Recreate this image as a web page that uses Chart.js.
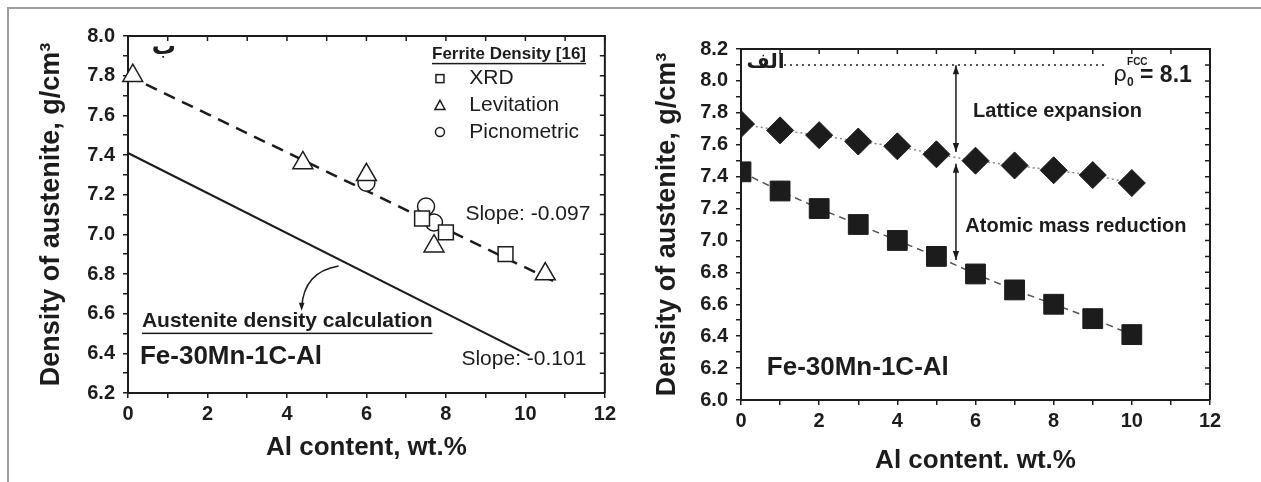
<!DOCTYPE html>
<html>
<head>
<meta charset="utf-8">
<script src="https://cdn.jsdelivr.net/npm/chart.js@4.4.0/dist/chart.umd.min.js"></script>
<style>
body { margin: 0; background: #fff; width: 1261px; height: 482px; overflow: hidden; position: relative; }
#frame { position: absolute; left: 7px; top: 7px; width: 1260px; height: 480px; border-top: 2px solid #9c9c9c; border-left: 2px solid #9c9c9c; }
#left { position: absolute; left: 0; top: 0; }
#right { position: absolute; left: 620px; top: 0; }
</style>
</head>
<body>
<div id="frame"></div>
<canvas id="left" width="620" height="482"></canvas>
<canvas id="right" width="641" height="482"></canvas>
<script>
const ink = "#1c1c1c"
Chart.defaults.font.family = "'Liberation Sans', Arial, sans-serif"
Chart.defaults.color = ink

// left panel: ferrite density data [16] and fits
const xrdAl = [7.4, 8.0, 9.5]
const xrdDensity = [7.08, 7.01, 6.90]
const levitationAl = [0.12, 4.4, 6.0, 7.7, 10.5]
const levitationDensity = [7.80, 7.36, 7.30, 6.94, 6.80]
const picnoAl = [6.0, 7.5, 7.7]
const picnoDensity = [7.26, 7.14, 7.06]
const ferriteFitAl = [0, 10.75]
const ferriteFitDensity = [7.80, 6.76]
const calcAl = [0, 10.1]
const calcDensity = [7.41, 6.39]

// right panel
const alSteps = [0, 1, 2, 3, 4, 5, 6, 7, 8, 9, 10]
const diamondDensity = [7.73, 7.69, 7.66, 7.62, 7.59, 7.54, 7.50, 7.47, 7.44, 7.41, 7.36]
const squareDensity = [7.43, 7.31, 7.20, 7.10, 7.00, 6.90, 6.79, 6.69, 6.60, 6.51, 6.41]
const rhoFccAl = [1.1, 9.35]
const rhoFccDensity = [8.1, 8.1]

function pts(xs, ys) {
    return xs.map((x, i) => ({ x: x, y: ys[i] }))
}

function makeScales(yMin, yMax, yWidth, xHeight, yTitlePad, xTitlePad, xTitle) {
    const tickFont = { size: 20, weight: "bold" }
    const grid = { drawOnChartArea: false, drawTicks: true, tickLength: 5, color: ink, lineWidth: 1.5 }
    return {
        x: {
            type: "linear", min: 0, max: 12,
            afterFit: s => { s.height = xHeight },
            ticks: { stepSize: 1, autoSkip: false, maxRotation: 0, padding: 4, font: tickFont, color: ink,
                callback: v => Math.round(v) % 2 ? "" : Math.round(v) },
            grid: grid,
            border: { display: true, color: ink, width: 2 },
            title: { display: true, text: xTitle, color: ink, font: { size: 26, weight: "bold" }, padding: { top: 0, bottom: xTitlePad } }
        },
        y: {
            type: "linear", min: yMin, max: yMax,
            afterFit: s => { s.width = yWidth },
            ticks: { stepSize: 0.1, autoSkip: false, padding: 8, font: tickFont, color: ink,
                callback: (v, i) => i % 2 ? "" : v.toFixed(1) },
            grid: grid,
            border: { display: true, color: ink, width: 2 },
            title: { display: true, text: "Density of austenite, g/cm³", color: ink, font: { size: 27, weight: "bold" }, padding: { top: yTitlePad, bottom: 0 } }
        }
    }
}

// top and right box lines with inward ticks
const framePlugin = {
    id: "frame",
    afterDraw(chart) {
        const ctx = chart.ctx
        const a = chart.chartArea
        const sx = chart.scales.x
        const sy = chart.scales.y
        ctx.save()
        ctx.strokeStyle = ink
        ctx.lineWidth = 2
        ctx.beginPath()
        ctx.moveTo(a.left, a.top)
        ctx.lineTo(a.right, a.top)
        ctx.lineTo(a.right, a.bottom)
        ctx.stroke()
        ctx.lineWidth = 1.5
        ctx.beginPath()
        sx.ticks.forEach(t => {
            const x = sx.getPixelForValue(t.value)
            ctx.moveTo(x, a.top)
            ctx.lineTo(x, a.top + 5)
        })
        sy.ticks.forEach(t => {
            const y = sy.getPixelForValue(t.value)
            ctx.moveTo(a.right, y)
            ctx.lineTo(a.right - 5, y)
        })
        ctx.stroke()
        ctx.restore()
    }
}

function label(ctx, text, x, y, font, align, underline) {
    ctx.font = font
    ctx.textAlign = align || "left"
    ctx.fillText(text, x, y)
    if (underline) {
        const w = ctx.measureText(text).width
        const x0 = align === "center" ? x - w / 2 : x
        ctx.fillRect(x0, y + underline, w, 1.5)
    }
}

function arrowHead(ctx, x, y, dx, dy, size) {
    const len = Math.hypot(dx, dy)
    const ux = dx / len
    const uy = dy / len
    ctx.beginPath()
    ctx.moveTo(x, y)
    ctx.lineTo(x - ux * size - uy * size * 0.35, y - uy * size + ux * size * 0.35)
    ctx.lineTo(x - ux * size + uy * size * 0.35, y - uy * size - ux * size * 0.35)
    ctx.closePath()
    ctx.fill()
}

const leftNotes = {
    id: "leftNotes",
    afterDatasetsDraw(chart) {
        const ctx = chart.ctx
        const X = v => chart.scales.x.getPixelForValue(v)
        const Y = v => chart.scales.y.getPixelForValue(v)
        ctx.save()
        ctx.fillStyle = ink
        ctx.strokeStyle = ink
        ctx.textBaseline = "alphabetic"
        label(ctx, "ب", X(0.6), Y(7.91), "bold 24px 'DejaVu Sans'")
        ctx.textBaseline = "middle"

        // legend
        label(ctx, "Ferrite Density [16]", X(7.65), Y(7.91), "bold 17px 'Liberation Sans'", "left", 9)
        const mx = X(7.85)
        ctx.lineWidth = 1.5
        let y = Y(7.785)
        ctx.strokeRect(mx - 4, y - 4, 8, 8)
        y = Y(7.65)
        ctx.beginPath()
        ctx.moveTo(mx, y - 5)
        ctx.lineTo(mx + 5, y + 4)
        ctx.lineTo(mx - 5, y + 4)
        ctx.closePath()
        ctx.stroke()
        y = Y(7.516)
        ctx.beginPath()
        ctx.arc(mx, y, 4.5, 0, Math.PI * 2)
        ctx.stroke()
        label(ctx, "XRD", X(8.59), Y(7.785), "21px 'Liberation Sans'")
        label(ctx, "Levitation", X(8.59), Y(7.65), "21px 'Liberation Sans'")
        label(ctx, "Picnometric", X(8.59), Y(7.516), "21px 'Liberation Sans'")

        label(ctx, "Slope: -0.097", X(8.49), Y(7.10), "21px 'Liberation Sans'")
        label(ctx, "Slope: -0.101", X(8.39), Y(6.37), "21px 'Liberation Sans'")
        label(ctx, "Austenite density calculation", X(0.35), Y(6.56), "bold 21px 'Liberation Sans'", "left", 11)
        label(ctx, "Fe-30Mn-1C-Al", X(0.3), Y(6.38), "bold 26px 'Liberation Sans'")

        // curved pointer to the calculated line
        ctx.lineWidth = 1.5
        ctx.beginPath()
        ctx.moveTo(X(5.3), Y(6.84))
        ctx.quadraticCurveTo(X(4.42), Y(6.81), X(4.37), Y(6.63))
        ctx.stroke()
        arrowHead(ctx, X(4.37), Y(6.615), 0, 1, 8)
        ctx.restore()
    }
}

const rightNotes = {
    id: "rightNotes",
    afterDatasetsDraw(chart) {
        const ctx = chart.ctx
        const X = v => chart.scales.x.getPixelForValue(v)
        const Y = v => chart.scales.y.getPixelForValue(v)
        ctx.save()
        ctx.fillStyle = ink
        ctx.strokeStyle = ink
        ctx.textBaseline = "alphabetic"
        label(ctx, "الف", X(0.14), Y(8.08), "bold 20px 'DejaVu Sans'")
        ctx.textBaseline = "middle"

        // rho_0^FCC = 8.1
        ctx.font = "22px 'DejaVu Sans'"
        ctx.textAlign = "left"
        const rx = X(9.52)
        ctx.fillText("ρ", rx, Y(8.035))
        const rw = ctx.measureText("ρ").width
        label(ctx, "0", rx + rw, Y(7.99), "bold 12px 'Liberation Sans'")
        label(ctx, "FCC", rx + rw, Y(8.12), "bold 10px 'Liberation Sans'")
        label(ctx, "= 8.1", X(10.21), Y(8.035), "bold 23px 'Liberation Sans'")

        label(ctx, "Lattice expansion", X(8.1), Y(7.81), "bold 20px 'Liberation Sans'", "center")
        label(ctx, "Atomic mass reduction", X(8.57), Y(7.09), "bold 20px 'Liberation Sans'", "center")
        label(ctx, "Fe-30Mn-1C-Al", X(0.66), Y(6.20), "bold 26px 'Liberation Sans'")

        // double arrows
        const ax = X(5.5)
        ctx.lineWidth = 1.5
        ctx.beginPath()
        ctx.moveTo(ax, Y(8.098))
        ctx.lineTo(ax, Y(7.555))
        ctx.moveTo(ax, Y(7.48))
        ctx.lineTo(ax, Y(6.877))
        ctx.stroke()
        arrowHead(ctx, ax, Y(8.098), 0, -1, 9)
        arrowHead(ctx, ax, Y(7.555), 0, 1, 9)
        arrowHead(ctx, ax, Y(7.48), 0, -1, 9)
        arrowHead(ctx, ax, Y(6.877), 0, 1, 9)
        ctx.restore()
    }
}

const openPoint = { backgroundColor: "#fff", borderColor: ink, borderWidth: 1.5, pointBorderWidth: 1.5, showLine: false }

new Chart(document.getElementById("left"), {
    type: "scatter",
    data: {
        datasets: [
            Object.assign({ label: "XRD", data: pts(xrdAl, xrdDensity), pointStyle: "rect", pointRadius: 10.5 }, openPoint),
            Object.assign({ label: "Levitation", data: pts(levitationAl, levitationDensity), pointStyle: "triangle", pointRadius: 11.5, clip: false }, openPoint),
            Object.assign({ label: "Picnometric", data: pts(picnoAl, picnoDensity), pointStyle: "circle", pointRadius: 8.5 }, openPoint),
            { label: "ferrite fit", data: pts(ferriteFitAl, ferriteFitDensity), showLine: true, pointRadius: 0,
              borderColor: ink, borderWidth: 2.5, borderDash: [12, 8] },
            { label: "austenite calculation", data: pts(calcAl, calcDensity), showLine: true, pointRadius: 0,
              borderColor: ink, borderWidth: 2 }
        ]
    },
    options: {
        responsive: false,
        animation: false,
        events: [],
        layout: { autoPadding: false, padding: { left: 0, top: 36, right: 15, bottom: 0 } },
        plugins: { legend: { display: false }, tooltip: { enabled: false } },
        scales: makeScales(6.2, 8.0, 128, 89, 35, 19, "Al content, wt.%")
    },
    plugins: [framePlugin, leftNotes]
})

new Chart(document.getElementById("right"), {
    type: "scatter",
    data: {
        datasets: [
            { label: "diamonds", data: pts(alSteps, diamondDensity), pointStyle: "rectRot", pointRadius: 13.5,
              backgroundColor: ink, borderColor: "#888", pointBorderColor: ink, pointBorderWidth: 1,
              showLine: true, borderWidth: 1.5, borderDash: [2, 3] },
            { label: "squares", data: pts(alSteps, squareDensity), pointStyle: "rect", pointRadius: 14,
              backgroundColor: ink, borderColor: "#555", pointBorderColor: ink, pointBorderWidth: 1,
              showLine: true, borderWidth: 1.5, borderDash: [7, 5] },
            { label: "rho FCC", data: pts(rhoFccAl, rhoFccDensity), showLine: true, pointRadius: 0,
              borderColor: ink, borderWidth: 1.5, borderDash: [2, 4] }
        ]
    },
    options: {
        responsive: false,
        animation: false,
        events: [],
        layout: { autoPadding: false, padding: { left: 0, top: 49, right: 51, bottom: 0 } },
        plugins: { legend: { display: false }, tooltip: { enabled: false } },
        scales: makeScales(6.0, 8.2, 121, 82, 31, 6, "Al content. wt.%")
    },
    plugins: [framePlugin, rightNotes]
})
</script>
</body>
</html>
